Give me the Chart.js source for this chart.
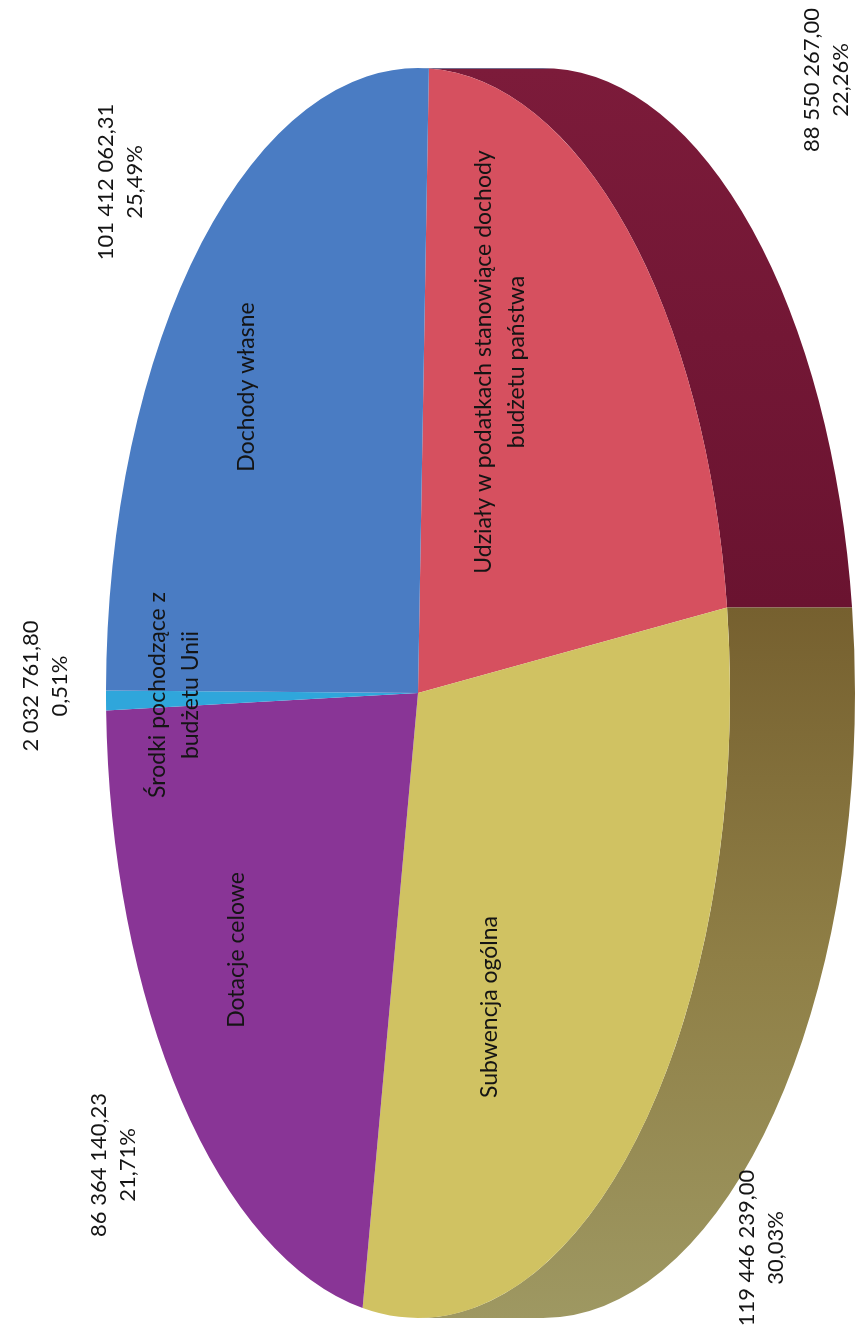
<!DOCTYPE html>
<html>
<head>
<meta charset="utf-8">
<script src="https://cdn.jsdelivr.net/npm/chart.js"></script>
<style>
    html, body { margin: 0; padding: 0; background: #fff; }
    #chart { display: block; }
</style>
</head>
<body>
<canvas id="chart" width="855" height="1332"></canvas>
<script>
// Dane - struktura dochodów (kolejność zgodnie z ruchem wskazówek)
const categories = [
    ['Udziały w podatkach stanowiące dochody', 'budżetu państwa'],
    ['Subwencja ogólna'],
    ['Dotacje celowe'],
    ['Środki pochodzące z', 'budżetu Unii'],
    ['Dochody własne']
];
const values = [88550267.00, 119446239.00, 86364140.23, 2032761.80, 101412062.31];

// Kolory
const topColors = ['#d6505f', '#d0c262', '#893596', '#2fa6db', '#4a7cc3'];
const sideColors = [
    ['#7c1b3a', '#6a1330'],
    ['#76602f', '#8f7f46', '#9e9862'],
    ['#4e1a58'],
    ['#1a6488'],
    ['#2d4f80']
];

// Pozycje etykiet (środek bloku tekstu, współrzędne strony)
const namePos = [[500, 362], [490, 1007], [237, 950], [174, 695], [247, 387]];
const valuePos = [[826, 80], [761, 1248], [113, 1165], [45, 686], [120, 182]];

// Geometria elipsy 3D (obrócony wykres)
const tilt = { cx: 418, cy: 693, rx: 312, ry: 625, depth: 125 };

const total = values.reduce((a, b) => a + b, 0);

function fmtNumber(v) {
    const parts = v.toFixed(2).split('.');
    return parts[0].replace(/\B(?=(\d{3})+(?!\d))/g, ' ') + ',' + parts[1];
}

function fmtPercent(v) {
    return (v / total * 100).toFixed(2).replace('.', ',') + '%';
}

function applyTilt(ctx, arc) {
    const R = arc.outerRadius;
    const c = tilt.rx / R;
    const b = -tilt.ry / R;
    ctx.transform(0, b, c, 0, tilt.cx - c * arc.y, tilt.cy - b * arc.x);
}

function sideFill(ctx, i) {
    const stops = sideColors[i];
    if (stops.length === 1) return stops[0];
    const g = i === 0
        ? ctx.createLinearGradient(0, tilt.cy - tilt.ry, 0, 607)
        : ctx.createLinearGradient(0, 607, 0, tilt.cy + tilt.ry);
    stops.forEach((col, k) => g.addColorStop(k / (stops.length - 1), col));
    return g;
}

function drawRotatedLines(ctx, lines, x, y, lineH) {
    ctx.save();
    ctx.translate(x, y);
    ctx.rotate(-Math.PI / 2);
    const start = -(lines.length - 1) * lineH / 2;
    lines.forEach((t, k) => ctx.fillText(t, 0, start + k * lineH));
    ctx.restore();
}

const pie3d = {
    id: 'pie3d',
    beforeDatasetsDraw(chart) {
        const ctx = chart.ctx;
        const arcs = chart.getDatasetMeta(0).data;
        const dv = tilt.depth * arcs[0].outerRadius / tilt.rx;

        // boczne ściany (widoczna połowa)
        arcs.forEach((arc, i) => {
            [0, 2 * Math.PI].forEach(base => {
                const s = Math.max(arc.startAngle, base);
                const e = Math.min(arc.endAngle, base + Math.PI);
                if (e <= s) return;
                ctx.save();
                applyTilt(ctx, arc);
                ctx.beginPath();
                ctx.arc(arc.x, arc.y, arc.outerRadius, s, e);
                ctx.arc(arc.x, arc.y + dv, arc.outerRadius, e, s, true);
                ctx.closePath();
                ctx.setTransform(1, 0, 0, 1, 0, 0);
                ctx.fillStyle = sideFill(ctx, i);
                ctx.fill();
                ctx.restore();
            });
        });

        // górna powierzchnia rysowana przez Chart.js w przekształconym układzie
        ctx.save();
        applyTilt(ctx, arcs[0]);
    },
    afterDatasetsDraw(chart) {
        const ctx = chart.ctx;
        ctx.restore();

        ctx.fillStyle = '#141414';
        ctx.textAlign = 'center';
        ctx.textBaseline = 'middle';

        chart.data.labels.forEach((lines, i) => {
            ctx.font = '23px Lato, "Open Sans", sans-serif';
            drawRotatedLines(ctx, lines, namePos[i][0], namePos[i][1], 33);
            const v = chart.data.datasets[0].data[i];
            ctx.font = '22px Lato, "Open Sans", sans-serif';
            drawRotatedLines(ctx, [fmtNumber(v), fmtPercent(v)], valuePos[i][0], valuePos[i][1], 29);
        });
    }
};

new Chart(document.getElementById('chart'), {
    type: 'pie',
    data: {
        labels: categories,
        datasets: [{
            data: values,
            backgroundColor: topColors,
            borderWidth: 0,
            clip: false
        }]
    },
    options: {
        responsive: false,
        animation: false,
        rotation: 92,
        events: [],
        layout: { padding: 0 },
        plugins: {
            legend: { display: false },
            tooltip: { enabled: false }
        }
    },
    plugins: [pie3d]
});
</script>
</body>
</html>
